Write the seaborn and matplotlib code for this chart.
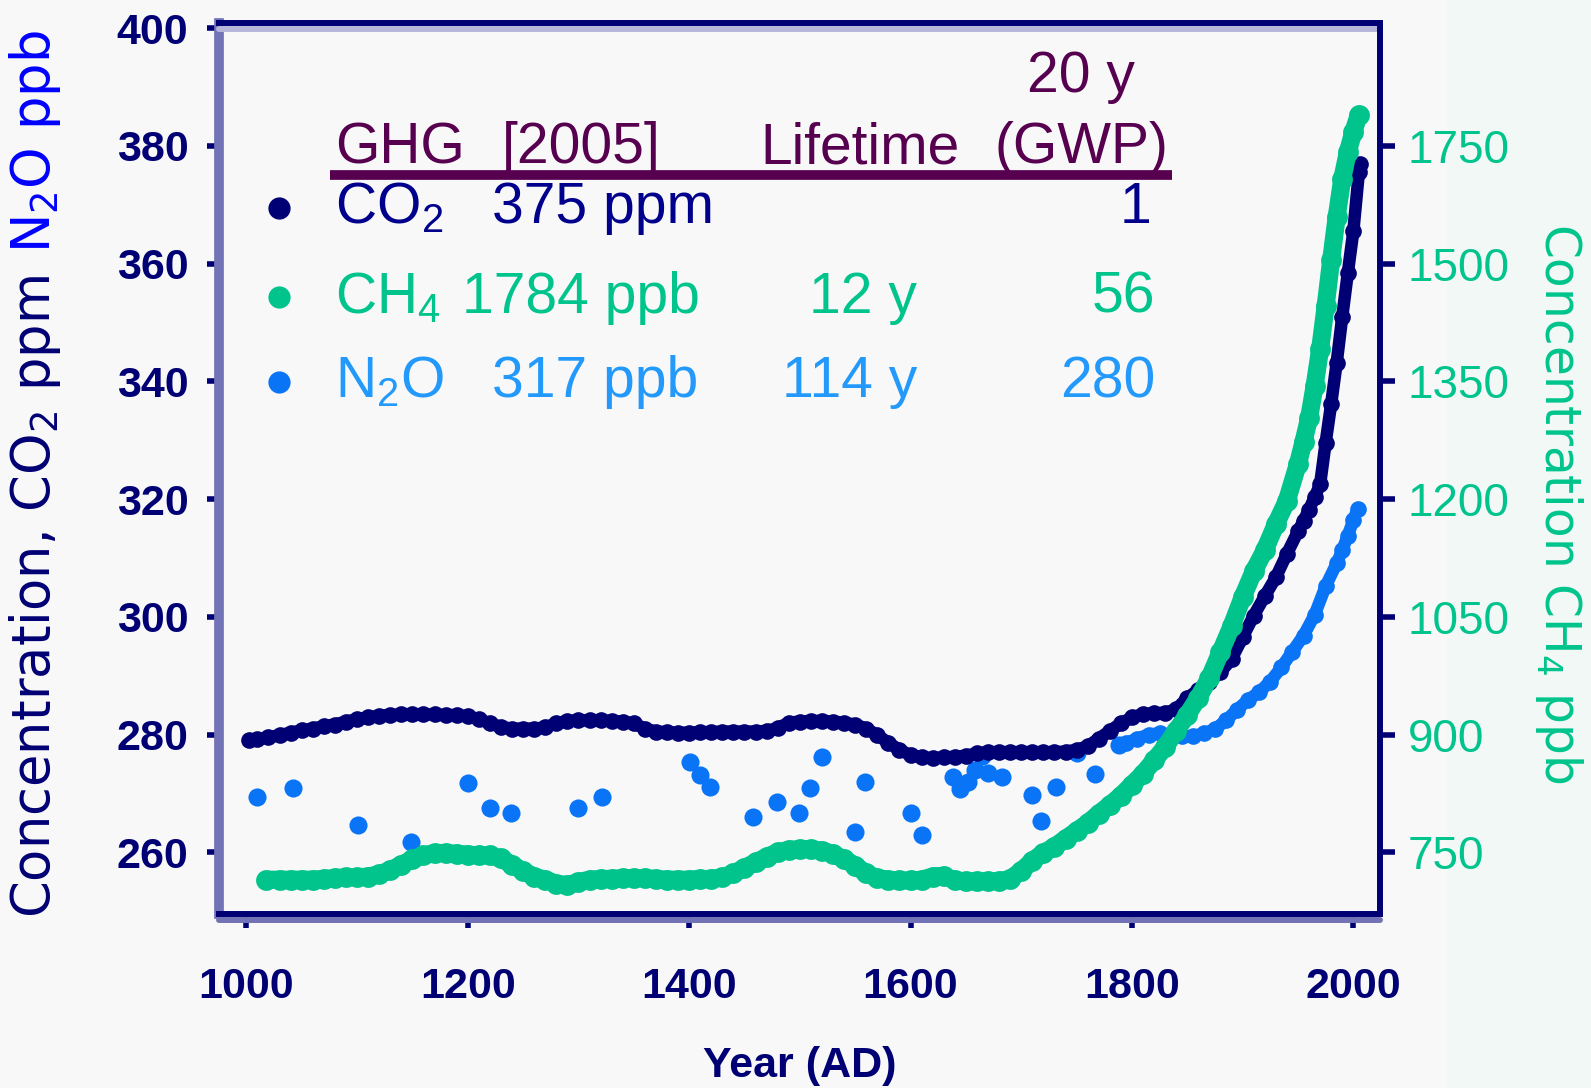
import matplotlib
matplotlib.use("Agg")
import matplotlib.pyplot as plt
import pandas as pd
import seaborn as sns
from matplotlib.lines import Line2D
from matplotlib.patches import Rectangle
from matplotlib.transforms import offset_copy

# --- data ---
co2_years = [1002, 1010, 1020, 1030, 1040, 1050, 1060, 1070, 1080, 1090,
             1100, 1110, 1120, 1130, 1140, 1150, 1160, 1170, 1180, 1190,
             1200, 1210, 1220, 1230, 1240, 1250, 1260, 1270, 1280, 1290,
             1300, 1310, 1320, 1330, 1340, 1350, 1360, 1370, 1380, 1390,
             1400, 1410, 1420, 1430, 1440, 1450, 1460, 1470, 1480, 1490,
             1500, 1510, 1520, 1530, 1540, 1550, 1560, 1570, 1580, 1590,
             1600, 1610, 1620, 1630, 1640, 1650, 1660, 1670, 1680, 1690,
             1700, 1710, 1720, 1730, 1740, 1750, 1760, 1770, 1780, 1790,
             1800, 1810, 1820, 1830, 1840, 1850, 1860, 1870, 1880, 1890,
             1900, 1910, 1920, 1930, 1940, 1950, 1955, 1960, 1965, 1970,
             1975, 1980, 1985, 1990, 1995, 2000, 2005, 2006]
co2_ppm = [279.0, 279.2, 279.5, 279.9, 280.3, 280.7, 281.0, 281.4, 281.7, 282.2,
           282.6, 282.9, 283.2, 283.3, 283.4, 283.4, 283.4, 283.4, 283.3, 283.3,
           283.1, 282.6, 281.9, 281.3, 281.0, 281.0, 281.0, 281.2, 281.9, 282.3,
           282.4, 282.4, 282.4, 282.3, 282.2, 281.9, 281.0, 280.5, 280.4, 280.3,
           280.3, 280.4, 280.4, 280.5, 280.5, 280.5, 280.5, 280.6, 281.1, 282.0,
           282.2, 282.3, 282.3, 282.2, 282.0, 281.7, 281.0, 279.9, 278.6, 277.4,
           276.5, 276.1, 276.0, 276.1, 276.2, 276.4, 276.8, 277.0, 277.0, 277.0,
           277.0, 277.0, 277.0, 277.0, 277.1, 277.4, 278.0, 279.3, 280.6, 281.9,
           282.9, 283.5, 283.6, 283.7, 284.3, 286.2, 287.6, 289.0, 290.6, 292.8,
           296.5, 300.2, 303.5, 306.7, 310.7, 314.5, 316.3, 318.2, 320.3, 322.5,
           329.6, 336.2, 343.2, 351.0, 358.4, 365.5, 375.5, 377.0]

ch4_years = [1018, 1030, 1040, 1050, 1060, 1070, 1080, 1090, 1100, 1110,
             1120, 1130, 1140, 1150, 1160, 1170, 1180, 1190, 1200, 1210,
             1220, 1230, 1240, 1250, 1260, 1270, 1280, 1290, 1300, 1310,
             1320, 1330, 1340, 1350, 1360, 1370, 1380, 1390, 1400, 1410,
             1420, 1430, 1440, 1450, 1460, 1470, 1480, 1490, 1500, 1510,
             1520, 1530, 1540, 1550, 1560, 1570, 1580, 1590, 1600, 1610,
             1620, 1630, 1640, 1650, 1660, 1670, 1680, 1690, 1700, 1710,
             1720, 1730, 1740, 1750, 1760, 1770, 1780, 1790, 1800, 1810,
             1820, 1830, 1840, 1850, 1860, 1870, 1880, 1890, 1900, 1910,
             1920, 1930, 1940, 1950, 1955, 1960, 1965, 1970, 1975, 1980,
             1985, 1990, 1995, 2000, 2005]
ch4_ppb = [715, 715, 715, 715, 715, 716, 717, 718, 718, 719,
           722, 727, 734, 741, 746, 749, 749, 748, 747, 746,
           746, 742, 734, 726, 719, 715, 710, 708, 712, 715,
           716, 716, 717, 717, 717, 716, 715, 715, 715, 716,
           716, 718, 723, 730, 737, 744, 750, 753, 754, 754,
           752, 748, 741, 733, 723, 717, 715, 714, 714, 715,
           719, 720, 714, 713, 713, 713, 713, 716, 726, 739,
           749, 757, 767, 777, 787, 799, 810, 822, 836, 850,
           867, 884, 905, 925, 947, 972, 1005, 1038, 1075, 1108,
           1135, 1168, 1198, 1245, 1273, 1303, 1344, 1391, 1446, 1505,
           1560, 1608, 1642, 1668, 1690]

# N2O: scattered ice-core points, then the dense modern record
n2o_core_years = [1010, 1042, 1101, 1149, 1200, 1220, 1239, 1300, 1321, 1401,
                  1410, 1419, 1458, 1479, 1499, 1509, 1520, 1550, 1559, 1600,
                  1610, 1638, 1645, 1652, 1658, 1665, 1670, 1683, 1710, 1718,
                  1731, 1750, 1767, 1788]
n2o_core_ppb = [269.4, 270.9, 264.6, 261.8, 271.7, 267.5, 266.6, 267.5, 269.4, 275.4,
                273.1, 271.1, 266.0, 268.6, 266.6, 270.9, 276.2, 263.5, 272.0, 266.6,
                263.0, 272.7, 270.8, 272.0, 274.0, 276.3, 273.5, 272.8, 269.7, 265.3,
                271.0, 276.8, 273.3, 278.3]
n2o_years = [1795, 1805, 1815, 1825, 1835, 1845, 1855, 1865, 1875, 1885,
             1895, 1905, 1915, 1925, 1935, 1945, 1955, 1965, 1975, 1985,
             1990, 1995, 2000, 2004]
n2o_ppb = [278.6, 279.3, 280.0, 280.2, 280.0, 279.7, 279.7, 280.2, 280.9, 282.4,
           284.2, 285.9, 287.2, 289.0, 291.4, 294.1, 296.8, 300.3, 305.2, 309.1,
           311.3, 313.8, 316.4, 318.4]

x_ticks = [1000, 1200, 1400, 1600, 1800, 2000]
left_ticks = [260, 280, 300, 320, 340, 360, 380, 400]
right_ticks = [750, 900, 1050, 1200, 1350, 1500, 1650]
right_tick_labels = ["750", "900", "1050", "1200", "1350", "1500", "1750"]

table_header = ["GHG", "[2005]", "Lifetime", "(GWP)"]
gwp_horizon = "20 y"
gas_names = ["CO$_2$", "CH$_4$", "N$_2$O"]
concentrations = ["375 ppm", "1784 ppb", "317 ppb"]
lifetimes = ["", "12 y", "114 y"]
gwp_values = ["1", "56", "280"]

# --- style ---
BG = "#f8f8f8"
NAVY = "#000074"
GREEN = "#00c48c"
BLUE = "#0a74f7"
LIGHTBLUE = "#2299fb"
PURPLE = "#56004f"
W, H = 1591, 1088


def fx(px):
    return px / W


def fy(py):
    return 1 - py / H


sns.set_theme(style="white", rc={"axes.facecolor": BG, "figure.facecolor": BG})
plt.rcParams["font.family"] = ["Liberation Sans", "DejaVu Sans"]
plt.rcParams["mathtext.default"] = "regular"

fig = plt.figure(figsize=(W / 100, H / 100), dpi=100)
fig.patches.append(Rectangle((fx(1447), 0), 1, 1, transform=fig.transFigure,
                             facecolor="#f1f8f6", edgecolor="none", zorder=-5))
ax = fig.add_axes([fx(219), fy(914), fx(1380) - fx(219), fy(23) - fy(914)])

co2 = pd.DataFrame({"year": co2_years, "value": co2_ppm})
n2o_core = pd.DataFrame({"year": n2o_core_years, "value": n2o_core_ppb})
n2o = pd.DataFrame({"year": n2o_years, "value": n2o_ppb})
ch4 = pd.DataFrame({"year": ch4_years, "value": ch4_ppb})

sns.scatterplot(data=n2o_core, x="year", y="value", ax=ax, color=BLUE, s=170,
                linewidth=0, zorder=2)
sns.lineplot(data=n2o, x="year", y="value", ax=ax, color=BLUE, linewidth=9,
             marker="o", markersize=12, markeredgewidth=0, zorder=2)
sns.lineplot(data=co2, x="year", y="value", ax=ax, color=NAVY, linewidth=9,
             marker="o", markersize=12, markeredgewidth=0, zorder=3)

ylo, yhi = 249.5, 400.9
ax.set_xlim(975.3, 2024.1)
ax.set_ylim(ylo, yhi)

ax2 = ax.twinx()
sns.lineplot(data=ch4, x="year", y="value", ax=ax2, color=GREEN, linewidth=13,
             marker="o", markersize=15, markeredgewidth=0, zorder=3)
ax2.set_ylim(750 + (ylo - 260) * 7.5, 750 + (yhi - 260) * 7.5)

ax.set_xticks(x_ticks, labels=[str(t) for t in x_ticks], fontweight="bold")
ax.set_yticks(left_ticks, labels=[str(t) for t in left_ticks], fontweight="bold")
ax2.set_yticks(right_ticks, labels=right_tick_labels)
ax.set_ylabel("")
ax2.set_ylabel("")
ax.set_xlabel("Year (AD)", fontsize=31, fontweight="bold", color=NAVY, labelpad=28)

ax.tick_params(axis="y", left=True, direction="out", length=9, width=4, color=NAVY,
               pad=13, labelsize=31, labelcolor=NAVY)
ax.tick_params(axis="x", bottom=True, direction="out", length=10, width=4, color=NAVY,
               pad=28, labelsize=31, labelcolor=NAVY)
ax2.tick_params(axis="y", right=True, direction="out", length=11, width=4, color=NAVY,
                pad=9, labelsize=33, labelcolor=GREEN)

for name, sp in ax.spines.items():
    sp.set_linewidth(4.3)
    sp.set_color(NAVY)
ax.spines["left"].set_color("#7272b6")
ax.spines["left"].set_linewidth(7)
ax.spines["right"].set_visible(False)
for name in ["left", "top", "bottom"]:
    ax2.spines[name].set_visible(False)
ax2.spines["right"].set_color(NAVY)
ax2.spines["right"].set_linewidth(4.3)

# faint shadow strips under top and bottom spines
ax.plot([0, 1], [1, 1], transform=offset_copy(ax.transAxes, fig=fig, y=-6, units="dots"),
        color="#b6b6da", lw=4.3, clip_on=False, zorder=5)
ax.plot([0, 1], [0, 0], transform=offset_copy(ax.transAxes, fig=fig, y=-6, units="dots"),
        color="#7272b6", lw=4.3, clip_on=False, zorder=5)

# axis titles
fig.text(fx(50), fy(918), "Concentration, CO$_2$ ppm", rotation=90, rotation_mode="anchor",
         ha="left", va="baseline", fontsize=38, color=NAVY, family="DejaVu Sans")
fig.text(fx(50), fy(253), "N$_2$O ppb", rotation=90, rotation_mode="anchor",
         ha="left", va="baseline", fontsize=38, color="#0000ff", family="DejaVu Sans")
fig.text(fx(1545), fy(223), "Concentration CH$_4$ ppb", rotation=270, rotation_mode="anchor",
         ha="left", va="baseline", fontsize=35, color=GREEN, family="DejaVu Sans")

# table legend
TS = 41
fig.text(fx(1135), fy(92), gwp_horizon, ha="right", va="baseline", fontsize=TS, color=PURPLE)
head_x = [335, 502, 760, 1168]
head_ha = ["left", "left", "left", "right"]
for txt, x, ha in zip(table_header, head_x, head_ha):
    fig.text(fx(x), fy(163), txt, ha=ha, va="baseline", fontsize=TS, color=PURPLE)
fig.add_artist(Line2D([fx(330), fx(1172)], [fy(175), fy(175)], transform=fig.transFigure,
                      color=PURPLE, lw=7, solid_capstyle="butt"))

row_base = [223, 313, 397]
dot_y = [208, 297, 382]
row_text_colors = ["#00008c", GREEN, LIGHTBLUE]
dot_colors = [NAVY, GREEN, BLUE]
conc_x = [492, 462, 492]
gwp_x = [1151, 1155, 1155]
for i in range(3):
    y = fy(row_base[i])
    c = row_text_colors[i]
    fig.add_artist(Line2D([fx(279)], [fy(dot_y[i])], transform=fig.transFigure, marker="o",
                          markersize=16, markeredgewidth=0, color=dot_colors[i]))
    fig.text(fx(335), y, gas_names[i], ha="left", va="baseline", fontsize=TS, color=c)
    fig.text(fx(conc_x[i]), y, concentrations[i], ha="left", va="baseline", fontsize=TS, color=c)
    if lifetimes[i]:
        fig.text(fx(917), y, lifetimes[i], ha="right", va="baseline", fontsize=TS, color=c)
    fig.text(fx(gwp_x[i]), y, gwp_values[i], ha="right", va="baseline", fontsize=TS, color=c)

fig.savefig("out.png", dpi=100, facecolor=BG)
